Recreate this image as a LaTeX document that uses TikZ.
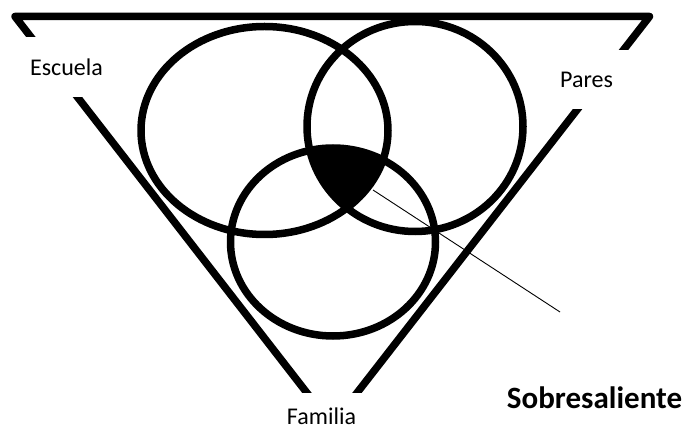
\documentclass[tikz,border=0pt]{standalone}
\usepackage{fontspec}
\setmainfont{Carlito}
\begin{document}
\begin{tikzpicture}[x=1pt,y=-1pt,
  ring/.style={line width=7.5pt},
  frame/.style={line width=7.5pt, line join=round},
  lbl/.style={fill=white, inner sep=0pt, font=\fontsize{24}{28}\selectfont},
  ]
\useasboundingbox (0,0) rectangle (688,430);
% frame (truncated triangle)
\coordinate (tl) at (15,16.5);
\coordinate (tr) at (649.5,16.5);
\coordinate (bl) at (320.2,410);
\coordinate (br) at (343.7,410);
\draw[frame] (bl) -- (tl) -- (tr) -- (br);
% labels on white boxes
\node[lbl, minimum width=100pt, minimum height=60pt] (escuela) at (66.5,67) {Escuela};
\node[lbl, minimum width=100pt, minimum height=59pt] (pares) at (586.5,79.5) {Pares};
\node[lbl, minimum width=100pt, minimum height=46pt] (familia) at (321.5,416) {Familia};
% common intersection
\begin{scope}
\clip (264.5,130.5) ellipse [x radius=123.5pt, y radius=104pt];
\clip (415,126.5) ellipse [x radius=108pt, y radius=105pt];
\fill (333,242) ellipse [x radius=102.5pt, y radius=94pt];
\end{scope}
% circles
\draw[ring] (264.5,130.5) ellipse [x radius=123.5pt, y radius=104pt];
\draw[ring] (415,126.5) ellipse [x radius=108pt, y radius=105pt];
\draw[ring] (333,242) ellipse [x radius=102.5pt, y radius=94pt];
% pointer line
\coordinate (p1) at (373,190);
\coordinate (p2) at (560,312);
\draw[line width=0.9pt] (p1) -- (p2);
\node[font=\bfseries\fontsize{31}{36}\selectfont, anchor=base, inner sep=0pt] (sobre) at (594.5,408) {Sobresaliente};
\end{tikzpicture}
\end{document}
